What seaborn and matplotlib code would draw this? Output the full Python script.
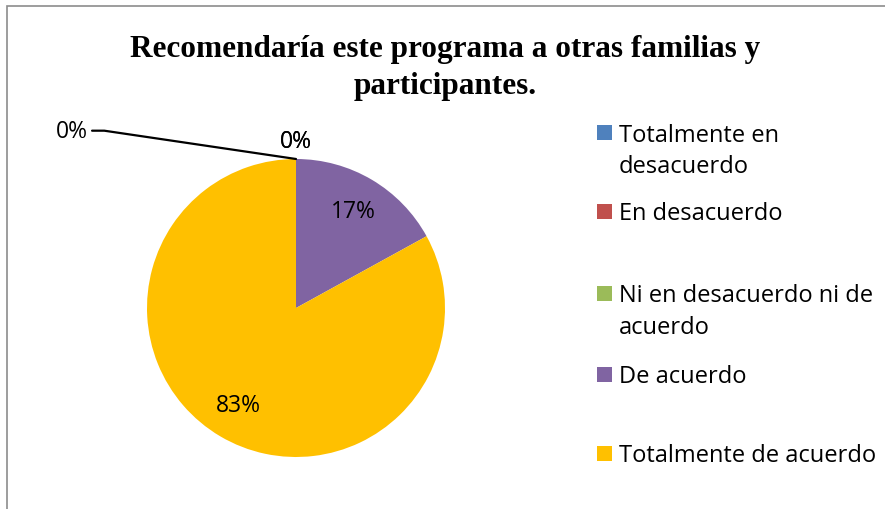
import numpy as np
import seaborn as sns
import matplotlib.pyplot as plt
from matplotlib.patches import Rectangle

categories = ['Totalmente en desacuerdo', 'En desacuerdo',
              'Ni en desacuerdo ni de acuerdo', 'De acuerdo',
              'Totalmente de acuerdo']
legend_labels = ['Totalmente en\ndesacuerdo', 'En desacuerdo',
                 'Ni en desacuerdo ni de\nacuerdo', 'De acuerdo',
                 'Totalmente de acuerdo']
values = [0, 0, 0, 17, 83]
colors = ['#4F81BD', '#C0504D', '#9BBB59', '#8064A2', '#FFC000']
title_lines = ['Recomendaría este programa a otras familias y', 'participantes.']

sns.set_theme(style='white')
plt.rcParams['font.family'] = ['Open Sans', 'DejaVu Sans']
plt.rcParams['text.color'] = 'black'

W, H = 885, 510
fig = plt.figure(figsize=(W / 100, H / 100), dpi=100)
ax = fig.add_axes([147 / W, 1 - 458 / H, 298 / W, 298 / H])

palette = sns.color_palette(colors)
wedges, _ = ax.pie(values, colors=palette, startangle=90, counterclock=False,
                   radius=1.0, wedgeprops={'linewidth': 0})
ax.set_aspect('equal')
ax.set_xlim(-1, 1)
ax.set_ylim(-1, 1)

# percentage labels from the wedge angles
total = sum(values)
for w, v in zip(wedges, values):
    mid = np.deg2rad((w.theta1 + w.theta2) / 2)
    pct = f'{round(100 * v / total)}%'
    if v > 0:
        ax.text(0.76 * np.cos(mid), 0.76 * np.sin(mid), pct, ha='center', va='center',
                fontsize=16.5)

zero_idx = [i for i, v in enumerate(values) if v == 0]
for k, i in enumerate(zero_idx):
    ang = np.deg2rad(wedges[i].theta1)
    x0, y0 = np.cos(ang), np.sin(ang)
    if k == 0:
        ax.annotate('0%', xy=(x0, y0), xytext=(-1.40, 1.19), ha='right', va='center',
                    fontsize=16.5, annotation_clip=False,
                    arrowprops=dict(arrowstyle='-', color='black', lw=1.6,
                                    connectionstyle='angle,angleA=0,angleB=-8.4,rad=0',
                                    shrinkA=1, shrinkB=0))
    else:
        ax.text(x0, y0 + 0.12, '0%', ha='center', va='center', fontsize=16.5,
                clip_on=False)

for line, yb in zip(title_lines, [57, 94]):
    fig.text(445 / W, 1 - yb / H, line, ha='center', va='baseline', fontsize=22.5,
             fontweight='bold', family='Liberation Serif')

# legend, one text per line so the box sits on the first line
ys = [133.5, 212, 294, 375, 454]
for lab, c, yc in zip(legend_labels, colors, ys):
    fig.add_artist(Rectangle((597 / W, 1 - (yc + 7.5) / H), 15 / W, 15 / H,
                             transform=fig.transFigure, color=c, lw=0))
    for j, part in enumerate(lab.split('\n')):
        fig.text(619 / W, 1 - (yc + 8.5 + 31 * j) / H, part, ha='left',
                 va='baseline', fontsize=17)

fig.add_artist(Rectangle((7 / W, -0.1), 1.2, 1 - 7 / H + 0.1,
                         transform=fig.transFigure, fill=False, ec='#8c8c8c', lw=1.2))

fig.savefig('out.png', dpi=100)
